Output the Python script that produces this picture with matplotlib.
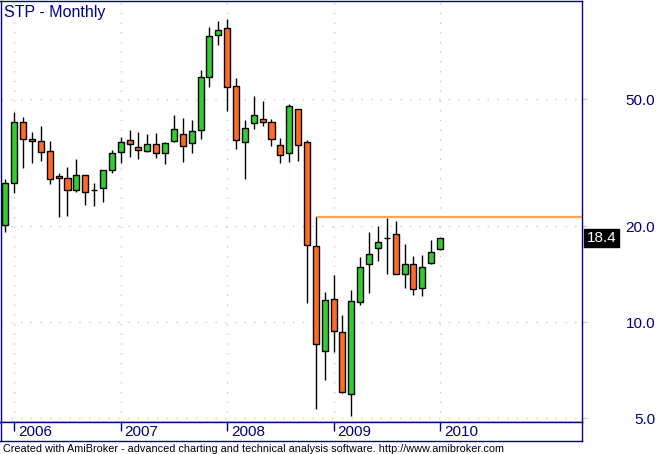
import matplotlib
matplotlib.use('Agg')
import matplotlib.pyplot as plt
import matplotlib.transforms as mtransforms
from matplotlib.ticker import NullLocator
import numpy as np
import pandas as pd

plt.rcParams['font.family'] = ['Liberation Sans', 'DejaVu Sans']

# ---------------- data (monthly OHLC, Dec 2005 .. Jan 2010) ----------------
dates = pd.date_range('2005-12-01', periods=50, freq='MS')
opens = [20.2, 27.3, 42.4, 37.5, 36.9, 34.4, 28.7, 28.3, 25.9, 28.9,
         25.9, 26.3, 30.0, 34.1, 37.2, 35.4, 34.4, 36.1, 33.9, 36.9,
         38.9, 36.4, 40.0, 58.6, 79.4, 83.5, 54.9, 36.7, 42.1, 43.4,
         42.4, 35.9, 33.9, 46.5, 36.7, 17.3, 8.11, 11.8, 9.30, 5.95,
         11.55, 15.2, 17.06, 18.34, 18.88, 14.14, 15.2, 12.78, 15.31, 16.94]
highs = [28.1, 45.7, 44.0, 39.4, 41.25, 37.0, 29.3, 30.7, 32.5, 28.9,
         27.3, 30.0, 34.6, 38.1, 40.1, 39.5, 38.85, 39.2, 36.7, 44.7,
         43.7, 43.1, 61.8, 84.3, 88.0, 89.3, 58.2, 43.1, 51.1, 49.4,
         43.3, 37.8, 48.25, 46.6, 37.2, 21.4, 12.42, 14.04, 10.52, 12.6,
         16.0, 19.15, 20.0, 21.2, 20.74, 17.56, 16.1, 16.22, 18.07, 18.4]
lows = [19.2, 25.5, 30.4, 31.6, 32.1, 27.1, 21.4, 21.6, 25.6, 23.4,
        23.2, 23.9, 29.3, 31.6, 33.05, 32.6, 34.1, 32.8, 31.4, 36.7,
        31.9, 34.0, 37.55, 54.8, 73.8, 46.1, 35.0, 28.2, 40.4, 41.3,
        35.8, 31.6, 31.9, 32.1, 11.5, 5.36, 6.61, 8.09, 6.02, 5.10,
        11.3, 12.38, 15.53, 14.14, 14.14, 12.84, 12.15, 12.06, 15.2, 16.9]
closes = [27.3, 42.4, 37.5, 36.9, 34.1, 28.1, 28.3, 25.9, 28.9, 25.7,
          25.9, 30.0, 33.9, 36.7, 36.1, 34.6, 36.1, 33.9, 36.4, 40.4,
          35.6, 39.8, 58.6, 78.8, 82.3, 54.55, 37.2, 40.6, 44.6, 42.4,
          37.5, 33.4, 47.55, 35.9, 17.43, 8.53, 11.72, 9.37, 6.06, 11.64,
          14.87, 16.34, 17.81, 18.34, 14.14, 15.2, 12.69, 14.87, 16.58, 18.4]
resistance_level = 21.4
resistance_start = 35          # bar index where the line starts (Oct 2008)
y_ticks = [5, 10, 20, 50]
y_tick_labels = ['5.0', '10.0', '20.0', '50.0']
last_value_label = '18.4'
title = 'STP - Monthly'
footer = ('Created with AmiBroker - advanced charting and technical analysis '
          'software. http://www.amibroker.com')

# ---------------- styling ----------------
NAVY = '#000080'
GREEN = '#32CD32'
ORANGE = '#FF6A26'
LINE_ORANGE = '#FFA552'
GRID_PINK = '#F2B8C8'
GRID_GRAY = '#C8C8C8'

W, H = 659, 454
fig = plt.figure(figsize=(W / 100, H / 100), dpi=100)
fig.patch.set_facecolor('white')


def fx(px):
    return px / W


def fy(py):
    return 1 - py / H


top_px, bot_px, left_px, right_px = 0.7, 421.7, 0.5, 582.0
ax = fig.add_axes([fx(left_px), fy(bot_px), (right_px - left_px) / W,
                   (bot_px - top_px) / H])
ax.set_yscale('log')

x = np.arange(len(opens))
o = np.array(opens)
c = np.array(closes)
hi = np.array(highs)
lo = np.array(lows)

spacing = 8.87
x0 = 5.4
ax.set_xlim((left_px - x0) / spacing, (right_px - x0) / spacing)
ax.set_ylim(10 ** (1 + (322.3 - bot_px) / 319), 10 ** (1 + (322.3 - top_px) / 319))

# wicks
ax.vlines(x, lo, hi, color='black', lw=1.0, zorder=3)

# bodies
up = c > o
down = c < o
doji = c == o
bw = 0.68
ax.bar(x[up], (c - o)[up], bottom=o[up], width=bw, color=GREEN,
       edgecolor='black', linewidth=1.0, zorder=4)
ax.bar(x[down], (o - c)[down], bottom=c[down], width=bw, color=ORANGE,
       edgecolor='black', linewidth=1.0, zorder=4)
ax.hlines(o[doji], x[doji] - bw / 2, x[doji] + bw / 2, color='black',
          lw=1.0, zorder=4)

# resistance line
ax.hlines(resistance_level, resistance_start, ax.get_xlim()[1],
          color=LINE_ORANGE, lw=1.6, zorder=2)

# year positions
year_idx = [i for i, d in enumerate(dates) if d.month == 1]
year_lbl = [str(dates[i].year) for i in year_idx]

# grid
ax.set_xticks(year_idx)
ax.set_xticklabels([])
ax.tick_params(axis='x', length=0)
ax.set_yticks(y_ticks)
ax.set_yticklabels(y_tick_labels)
ax.yaxis.set_minor_locator(NullLocator())
ax.grid(axis='y', color=GRID_PINK, linestyle=(0, (1, 6)), lw=1.0, zorder=0)
ax.grid(axis='x', color=GRID_GRAY, linestyle=(0, (1, 6)), lw=1.0, zorder=0)
ax.set_axisbelow(True)

ax.yaxis.tick_right()
ax.tick_params(axis='y', which='major', direction='out', length=3.6,
               width=1.0, color=GRID_PINK, labelcolor=NAVY, labelsize=11,
               pad=49)
for lbl in ax.get_yticklabels():
    lbl.set_horizontalalignment('right')

for s in ax.spines.values():
    s.set_color(NAVY)
    s.set_linewidth(1.0)

# last value label
trans = mtransforms.blended_transform_factory(ax.transAxes, ax.transData)
ax.text((601.5 - left_px) / (right_px - left_px), closes[-1], last_value_label,
        transform=trans, ha='center', va='center', color='white', fontsize=11,
        bbox=dict(boxstyle='square,pad=0.15', fc='black', ec='black'),
        clip_on=False, zorder=10)

# title
fig.text(fx(4), fy(16.7), title, ha='left', va='baseline', color=NAVY,
         fontsize=11.5)

# date band
band_bot = 440.7
axb = fig.add_axes([fx(left_px), fy(band_bot), (right_px - left_px) / W,
                    (band_bot - bot_px) / H])
axb.set_xlim(ax.get_xlim())
axb.set_ylim(0, 1)
axb.set_xticks([])
axb.set_yticks([])
for s in axb.spines.values():
    s.set_color(NAVY)
    s.set_linewidth(1.0)
tick_len = 9 / (band_bot - bot_px)
axb.vlines(year_idx, 1 - tick_len, 1, color=NAVY, lw=1.0)
for xi, lbl in zip(year_idx, year_lbl):
    axb.text(xi + 4 / spacing, (band_bot - 436.3) / (band_bot - bot_px), lbl,
             ha='left', va='baseline', color=NAVY, fontsize=11)

# footer
fig.text(fx(3), fy(451.7), footer, ha='left', va='baseline', color='black',
         fontsize=7.8)

fig.savefig('out.png', dpi=100)
